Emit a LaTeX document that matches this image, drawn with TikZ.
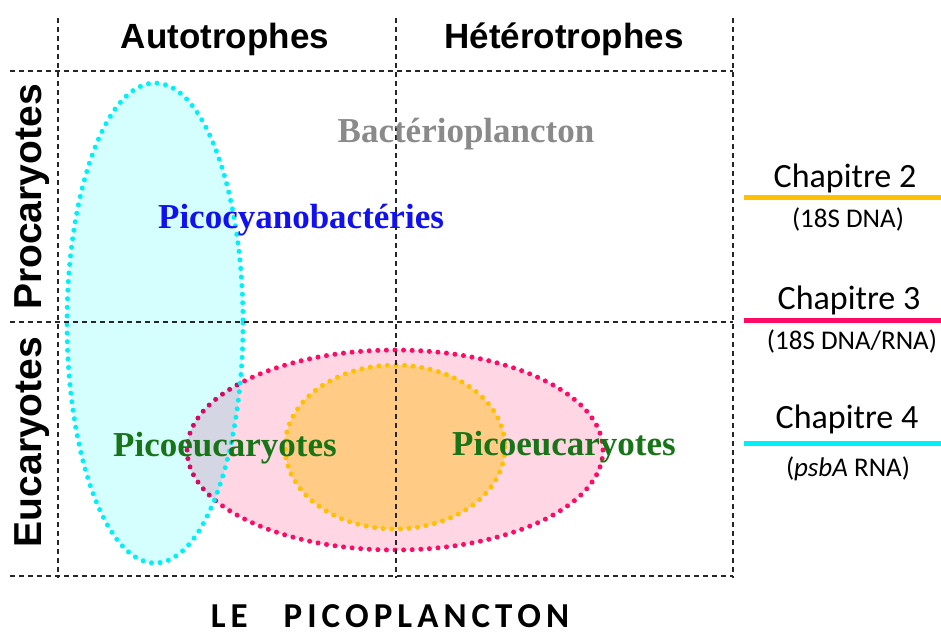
\documentclass[tikz,border=0pt]{standalone}
\usepackage{fontspec}
\setmainfont{Liberation Serif}
\newfontfamily\hdfont{Liberation Sans}
\newfontfamily\calfont{Carlito}
\definecolor{cyanfill}{HTML}{D5FFFF}
\definecolor{cyanline}{HTML}{00F0F8}
\definecolor{pinkfill}{HTML}{FFD6E4}
\definecolor{pinkline}{HTML}{FF0A64}
\definecolor{orgfill}{HTML}{FFCB85}
\definecolor{orgline}{HTML}{FFC000}
\definecolor{greentxt}{HTML}{177517}
\definecolor{graytxt}{HTML}{8A8A8A}
\definecolor{bluetxt}{HTML}{1010F0}
\newcommand\lk{\kern5pt}
\tikzset{
  gridline/.style={line width=1.2pt, dash pattern=on 5pt off 4pt, black!85},
  dotline/.style={line width=5pt, line cap=round, dash pattern=on 0pt off 8.6pt},
  header/.style={font=\hdfont\bfseries\fontsize{35}{40}\selectfont, anchor=base, inner sep=0pt},
  rowlab/.style={font=\hdfont\bfseries\fontsize{39}{44}\selectfont, anchor=base, rotate=90, inner sep=0pt},
  group/.style={font=\bfseries\fontsize{35}{40}\selectfont, anchor=base, inner sep=0pt},
  chap/.style={font=\calfont\fontsize{34}{38}\selectfont, anchor=base, inner sep=0pt},
  sub/.style={font=\calfont\fontsize{27}{32}\selectfont, anchor=base, inner sep=0pt},
  chapline/.style={line width=5pt},
}
\begin{document}
\begin{tikzpicture}[x=1pt,y=-1pt]
\useasboundingbox (0,0) rectangle (941,633);
% ellipses
\fill[pinkfill] (395,450) ellipse [x radius=208, y radius=100];
\draw[dotline, pinkline] (395,450) ellipse [x radius=208, y radius=100];
\fill[orgfill] (395,447) ellipse [x radius=110, y radius=82];
\draw[dotline, orgline] (395,447) ellipse [x radius=110, y radius=82];
\begin{scope}[blend mode=multiply]
\fill[cyanfill] (155,323) ellipse [x radius=88, y radius=240];
\end{scope}
\draw[dotline, cyanline] (155,323) ellipse [x radius=88, y radius=240];
% grid
\draw[gridline] (58,18) -- (58,578);
\draw[gridline] (396,18) -- (396,578);
\draw[gridline] (733,18) -- (733,578);
\draw[gridline] (10,71) -- (733,71);
\draw[gridline] (10,322) -- (733,322);
\draw[gridline] (10,576) -- (733,576);
% headers
\node[header] (auto) at (225,48) {Autotrophes};
\node[header] (hetero) at (564,48) {Hétérotrophes};
\node[rowlab] (proc) at (41,197) {Procaryotes};
\node[rowlab] (euc) at (41,442) {Eucaryotes};
% groups
\node[group, text=graytxt] (bact) at (466,142) {Bactérioplancton};
\node[group, text=bluetxt] (cyano) at (301,228) {Picocyanobactéries};
\node[group, text=greentxt] (peukA) at (225,456) {Picoeucaryotes};
\node[group, text=greentxt] (peukH) at (564,455) {Picoeucaryotes};
% chapters
\node[chap] (ch2) at (845,187) {Chapitre 2};
\draw[chapline, orgline] (744,197) -- (941,197);
\node[sub] (s2) at (848,227) {(18S DNA)};
\node[chap] (ch3) at (849,309) {Chapitre 3};
\draw[chapline, pinkline] (744,320) -- (941,320);
\node[sub] (s3) at (852,349) {(18S DNA/RNA)};
\node[chap] (ch4) at (847,428) {Chapitre 4};
\draw[chapline, cyanline] (744,443) -- (941,443);
\node[sub] (s4) at (848,476) {(\textit{psbA} RNA)};
% title
\node[font=\calfont\bfseries\fontsize{35}{38}\selectfont, anchor=base, inner sep=0pt] (title) at (390,627)
  {L\lk E\kern36pt P\lk I\lk C\lk O\lk P\lk L\lk A\lk N\lk C\lk T\lk O\lk N};
\end{tikzpicture}
\end{document}
